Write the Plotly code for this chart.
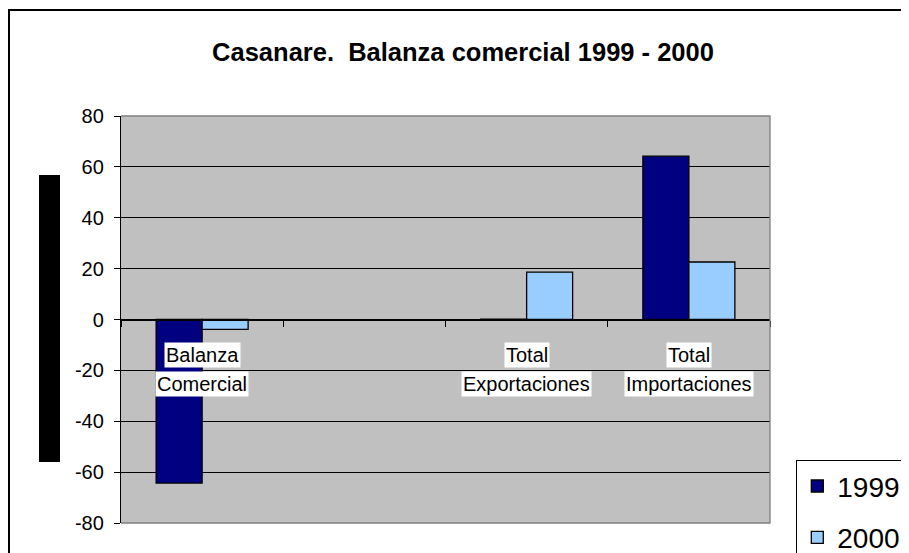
import plotly.graph_objects as go

# ---- data ----
categories = ["Balanza Comercial", " ", "Total Exportaciones", "Total Importaciones"]
series_names = ["1999", "2000"]
values_1999 = [-64.3, None, 0.1, 64.2]
values_2000 = [-3.9, None, 18.6, 22.6]
series_colors = ["#000080", "#99CCFF"]
title_text = "Casanare.\u00a0 Balanza comercial 1999 - 2000"
y_ticks = [-80, -60, -40, -20, 0, 20, 40, 60, 80]
y_tick_labels = ["-80", "-60", "-40", "-20", "0", "20", "40", "60", "80"]

OFF = 8  # page offset of the figure (body margin)
W, H = 909 - OFF, 553 - OFF
ML, MT = 121 - OFF, 116 - OFF
MR = W - (770 - OFF)
MB = H - (523 - OFF)
PW, PH = W - ML - MR, H - MT - MB


def px(x):
    return (x - OFF - ML) / PW


def py(y):
    return (H - MB - (y - OFF)) / PH


FONT = "Arial, 'Liberation Sans', sans-serif"

fig = go.Figure()
for name, vals, col in zip(series_names, [values_1999, values_2000], series_colors):
    fig.add_trace(go.Bar(
        x=categories, y=vals, name=name, legendgroup=name,
        marker=dict(color=col, line=dict(color="black", width=1.3)),
    ))

# category labels (one white box per line)
annotations = []
for cat in categories:
    lines = cat.split()
    for i, ln in enumerate(lines):
        annotations.append(dict(
            x=cat, y=0, xref="x", yref="y", text=ln, showarrow=False,
            yanchor="middle", xanchor="center", yshift=-35 - 29 * i,
            bgcolor="white", borderpad=1,
            font=dict(family=FONT, size=20, color="black"),
        ))

shapes = [
    # outer chart border
    dict(type="rect", xref="paper", yref="paper", x0=px(9), x1=px(925), y0=py(570), y1=py(10),
         line=dict(color="black", width=2), fillcolor="rgba(0,0,0,0)", layer="above"),
    # plot area border (top, right, bottom)
    dict(type="path", xref="paper", yref="paper",
         path="M 0,1 L 1,1 L 1,0 L 0,0", line=dict(color="#808080", width=1.3), layer="above"),
    # black block at the left (axis title area)
    dict(type="rect", xref="paper", yref="paper", x0=px(39), x1=px(60), y0=py(462), y1=py(175),
         line=dict(width=0), fillcolor="black", layer="above"),
]

fig.update_layout(
    width=W, height=H,
    margin=dict(l=ML, r=MR, t=MT, b=MB, autoexpand=False),
    paper_bgcolor="white", plot_bgcolor="#C0C0C0",
    title=dict(text="<b>" + title_text + "</b>", x=(463 - OFF) / W, xanchor="center",
               y=1 - (52 - OFF) / H, yanchor="middle", yref="container",
               font=dict(family=FONT, size=25.5, color="black")),
    barmode="group", bargap=0.433, bargroupgap=0,
    font=dict(family=FONT, color="black"),
    xaxis=dict(type="category", categoryorder="array", categoryarray=categories,
               anchor="free", position=0.5, showline=True, linecolor="black", linewidth=1.3,
               ticks="outside", tickson="boundaries", ticklen=6, tickcolor="black", tickwidth=1.3,
               showticklabels=False, showgrid=False, zeroline=False),
    yaxis=dict(range=[-80, 80], tickvals=y_ticks, ticktext=y_tick_labels,
               showline=True, linecolor="black", linewidth=1.3,
               ticks="outside", ticklen=6, tickcolor="black", tickwidth=1.3,
               showgrid=True, gridcolor="black", gridwidth=1.3, zeroline=False,
               tickfont=dict(family=FONT, size=20, color="black"), ticklabelstandoff=6),
    showlegend=True,
    legend=dict(x=px(796), y=py(460), xanchor="left", yanchor="top",
                bgcolor="white", bordercolor="black", borderwidth=1.3,
                font=dict(family=FONT, size=28, color="black"),
                tracegroupgap=12, traceorder="grouped"),
    annotations=annotations, shapes=shapes,
)

fig.write_html("out.html")
